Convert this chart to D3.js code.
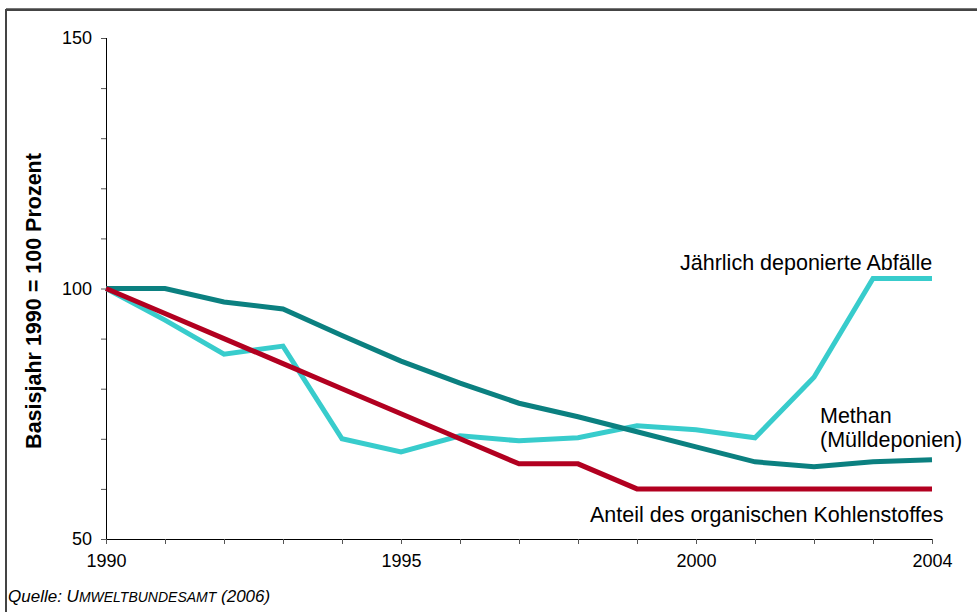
<!DOCTYPE html>
<html><head><meta charset="utf-8">
<script src="https://cdn.jsdelivr.net/npm/d3@7"></script>
<style>body{margin:0;background:#fff;}svg{display:block;font-family:"Liberation Sans",Arial,sans-serif;}</style>
</head><body><svg id="c" width="977" height="612"></svg>
<script>
const years = [1990,1991,1992,1993,1994,1995,1996,1997,1998,1999,2000,2001,2002,2003,2004];
const methan = [100,100,97.3,95.9,90.6,85.5,81.1,77.1,74.4,71.4,68.4,65.4,64.4,65.4,65.8];
const abfaelle = [100,93.7,86.9,88.5,70.0,67.4,70.6,69.6,70.2,72.6,71.8,70.2,82.3,102,102];
const kohlenstoff = [100,95,90,85,80,75,70,65,65,60,60,60,60,60,60];
const yTickLabels = [50,100,150];
const xTickLabels = [1990,1995,2000,2004];

const svg = d3.select("#c");
// frame
svg.append("path").attr("d","M6,612 V10 H977").attr("fill","none").attr("stroke","#444").attr("stroke-width",2);
svg.append("line").attr("x1",6).attr("x2",977).attr("y1",8.5).attr("y2",8.5).attr("stroke","#777").attr("stroke-width",1);

const x = d3.scaleLinear().domain([1990,2004]).range([106,932]);
const y = d3.scaleLinear().domain([50,150]).range([539,38]);

// y axis
const yAx = svg.append("g").attr("transform","translate(106,0)")
  .call(d3.axisLeft(y).tickValues(d3.range(50,151,10)).tickSize(5).tickFormat(d=>yTickLabels.includes(d)?d:""));
yAx.select(".domain").attr("stroke","#000").attr("d","M0.5,38V539");
yAx.selectAll(".tick line").attr("stroke","#555");
yAx.selectAll(".tick text").attr("font-size",18).attr("fill","#000").attr("x",-14).attr("font-family","Liberation Sans, Arial, sans-serif");

// x axis
const xAx = svg.append("g").attr("transform","translate(0,539)")
  .call(d3.axisBottom(x).tickValues(years).tickSize(5).tickFormat(d=>xTickLabels.includes(d)?d:""));
xAx.select(".domain").attr("stroke","#000").attr("d","M106,0.5H932");
xAx.selectAll(".tick line").attr("stroke","#555");
xAx.selectAll(".tick text").attr("font-size",18).attr("fill","#000").attr("y",15).attr("font-family","Liberation Sans, Arial, sans-serif");

const line = d3.line().x((d,i)=>x(years[i])).y(d=>y(d));
const series = [
  {v:abfaelle, c:"#38cccc"},
  {v:methan, c:"#0b8080"},
  {v:kohlenstoff, c:"#b20020"}
];
series.forEach(s=>{
  svg.append("path").datum(s.v).attr("d",line).attr("fill","none")
    .attr("stroke",s.c).attr("stroke-width",5).attr("stroke-linejoin","miter");
});

// labels
const lbl = (t,xx,yy,anchor="start")=>svg.append("text").attr("x",xx).attr("y",yy).attr("font-size",21.5).attr("fill","#000").attr("text-anchor",anchor).text(t);
lbl("Jährlich deponierte Abfälle",680,270);
lbl("Methan",820,423);
lbl("(Mülldeponien)",820,447);
lbl("Anteil des organischen Kohlenstoffes",590,522);

// y title
svg.append("text").attr("transform","translate(41,301) rotate(-90)").attr("text-anchor","middle")
  .attr("font-size",21.5).attr("font-weight","bold").attr("fill","#000").text("Basisjahr 1990 = 100 Prozent");

// source
const src = svg.append("text").attr("x",8).attr("y",602).attr("font-size",17).attr("font-style","italic").attr("fill","#000");
src.append("tspan").text("Quelle: U");
src.append("tspan").attr("font-size",14).text("MWELTBUNDESAMT");
src.append("tspan").text(" (2006)");
</script></body></html>
